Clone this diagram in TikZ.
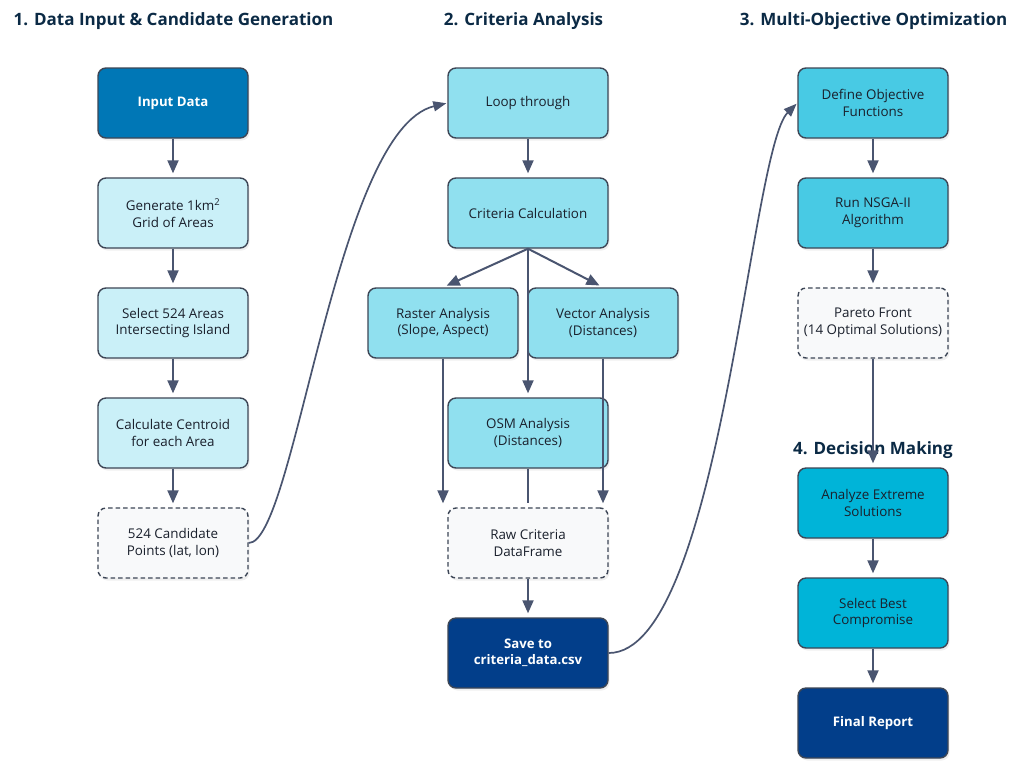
\documentclass[tikz,border=0pt]{standalone}
\usepackage{fontspec}
\setmainfont{Open Sans}
\usetikzlibrary{arrows.meta,shadows}
\definecolor{cInput}{HTML}{0077B6}
\definecolor{cLight}{HTML}{CAF0F8}
\definecolor{cMid}{HTML}{90E0EF}
\definecolor{cOpt}{HTML}{48CAE4}
\definecolor{cDec}{HTML}{00B4D8}
\definecolor{cNavy}{HTML}{023E8A}
\definecolor{cData}{HTML}{F8F9FA}
\definecolor{cBorder}{HTML}{3D4656}
\definecolor{cArrow}{HTML}{4A5570}
\definecolor{cTitle}{HTML}{0B2A45}
\definecolor{cText}{HTML}{1A202C}
\tikzset{
  box/.style={draw=cBorder, line width=1.4pt, rounded corners=8pt,
    minimum width=150pt, minimum height=70pt, inner sep=0pt,
    align=center, text=cText, font=\fontsize{13.4}{16.5}\selectfont,
    drop shadow={opacity=0.12, shadow xshift=1.5pt, shadow yshift=-2.5pt}},
  wide/.style={minimum width=160pt},
  lightbox/.style={box, fill=cLight},
  midbox/.style={box, fill=cMid},
  optbox/.style={box, fill=cOpt},
  decbox/.style={box, fill=cDec},
  darkbox/.style={box, text=white, font=\fontsize{13.2}{16.5}\selectfont\bfseries},
  inbox/.style={darkbox, fill=cInput},
  navybox/.style={darkbox, fill=cNavy},
  databox/.style={box, fill=cData, dashed, dash pattern=on 4.5pt off 3pt},
  ttl/.style={text=cTitle, font=\fontsize{17}{20}\selectfont\bfseries, inner sep=0pt},
  arr/.style={draw=cArrow, line width=2pt, -{Triangle[length=13pt,width=11pt]}, shorten >=4pt},
  plain/.style={draw=cArrow, line width=2pt},
  curvearr/.style={draw=cArrow, line width=1.7pt, -{Triangle[length=13pt,width=10pt]}, shorten >=1pt}
}
\begin{document}
\begin{tikzpicture}[x=1pt,y=-1pt]
\useasboundingbox[fill=white] (0,0) rectangle (1014,764);
% titles
\node[ttl] (t1) at (173.5,21) {1. Data Input \& Candidate Generation};
\node[ttl] (t2) at (523.5,21) {2. Criteria Analysis};
\node[ttl] (t3) at (873.5,21) {3. Multi-Objective Optimization};
\node[ttl] (t4) at (873,450) {4. Decision Making};
% column 1
\node[inbox] (input) at (173,103) {Input Data};
\node[lightbox] (grid) at (173,213) {Generate 1km\textsuperscript{2}\\Grid of Areas};
\node[lightbox] (sel) at (173,323) {Select 524 Areas\\Intersecting Island};
\node[lightbox] (cent) at (173,433) {Calculate Centroid\\for each Area};
\node[databox] (cand) at (173,543) {524 Candidate\\Points (lat, lon)};
% column 2
\node[midbox, wide] (loop) at (528,103) {Loop through};
\node[midbox, wide] (crit) at (528,213) {Criteria Calculation};
\node[midbox] (rast) at (443,323) {Raster Analysis\\(Slope, Aspect)};
\node[midbox] (vect) at (603,323) {Vector Analysis\\(Distances)};
\node[midbox, wide] (osm) at (528,433) {OSM Analysis\\(Distances)};
\node[databox, wide] (raw) at (528,543) {Raw Criteria\\DataFrame};
\node[navybox, wide] (save) at (528,653) {Save to\\criteria\_data.csv};
% column 3
\node[optbox] (obj) at (873,103) {Define Objective\\Functions};
\node[optbox] (nsga) at (873,213) {Run NSGA-II\\Algorithm};
\node[databox] (pareto) at (873,323) {Pareto Front\\(14 Optimal Solutions)};
\node[decbox] (ext) at (873,503) {Analyze Extreme\\Solutions};
\node[decbox] (best) at (873,613) {Select Best\\Compromise};
\node[navybox] (rep) at (873,723) {Final Report};
% connectors column 1
\draw[arr] (input) -- (grid);
\draw[arr] (grid) -- (sel);
\draw[arr] (sel) -- (cent);
\draw[arr] (cent) -- (cand);
% column 2
\draw[arr] (loop) -- (crit);
\draw[arr] (crit.south) -- (rast.north);
\draw[arr] (crit.south) -- (vect.north);
\draw[arr] (crit.south) -- (osm.north);
\draw[arr] (rast.south) -- (raw.north -| rast.south);
\draw[arr] (vect.south) -- (raw.north -| vect.south);
\coordinate (osmend) at (528,503);
\draw[plain] (osm.south) -- (osmend);
\draw[arr] (raw) -- (save);
% column 3
\draw[arr] (obj) -- (nsga);
\draw[arr] (nsga) -- (pareto);
\draw[arr] (pareto) -- (ext);
\draw[arr] (ext) -- (best);
\draw[arr] (best) -- (rep);
% cross-column curves
\draw[curvearr] (cand.east) .. controls (295,543) and (335,130) .. (loop.west);
\draw[curvearr] (save.east) .. controls (720,653) and (750,150) .. (obj.west);
\end{tikzpicture}
\end{document}
